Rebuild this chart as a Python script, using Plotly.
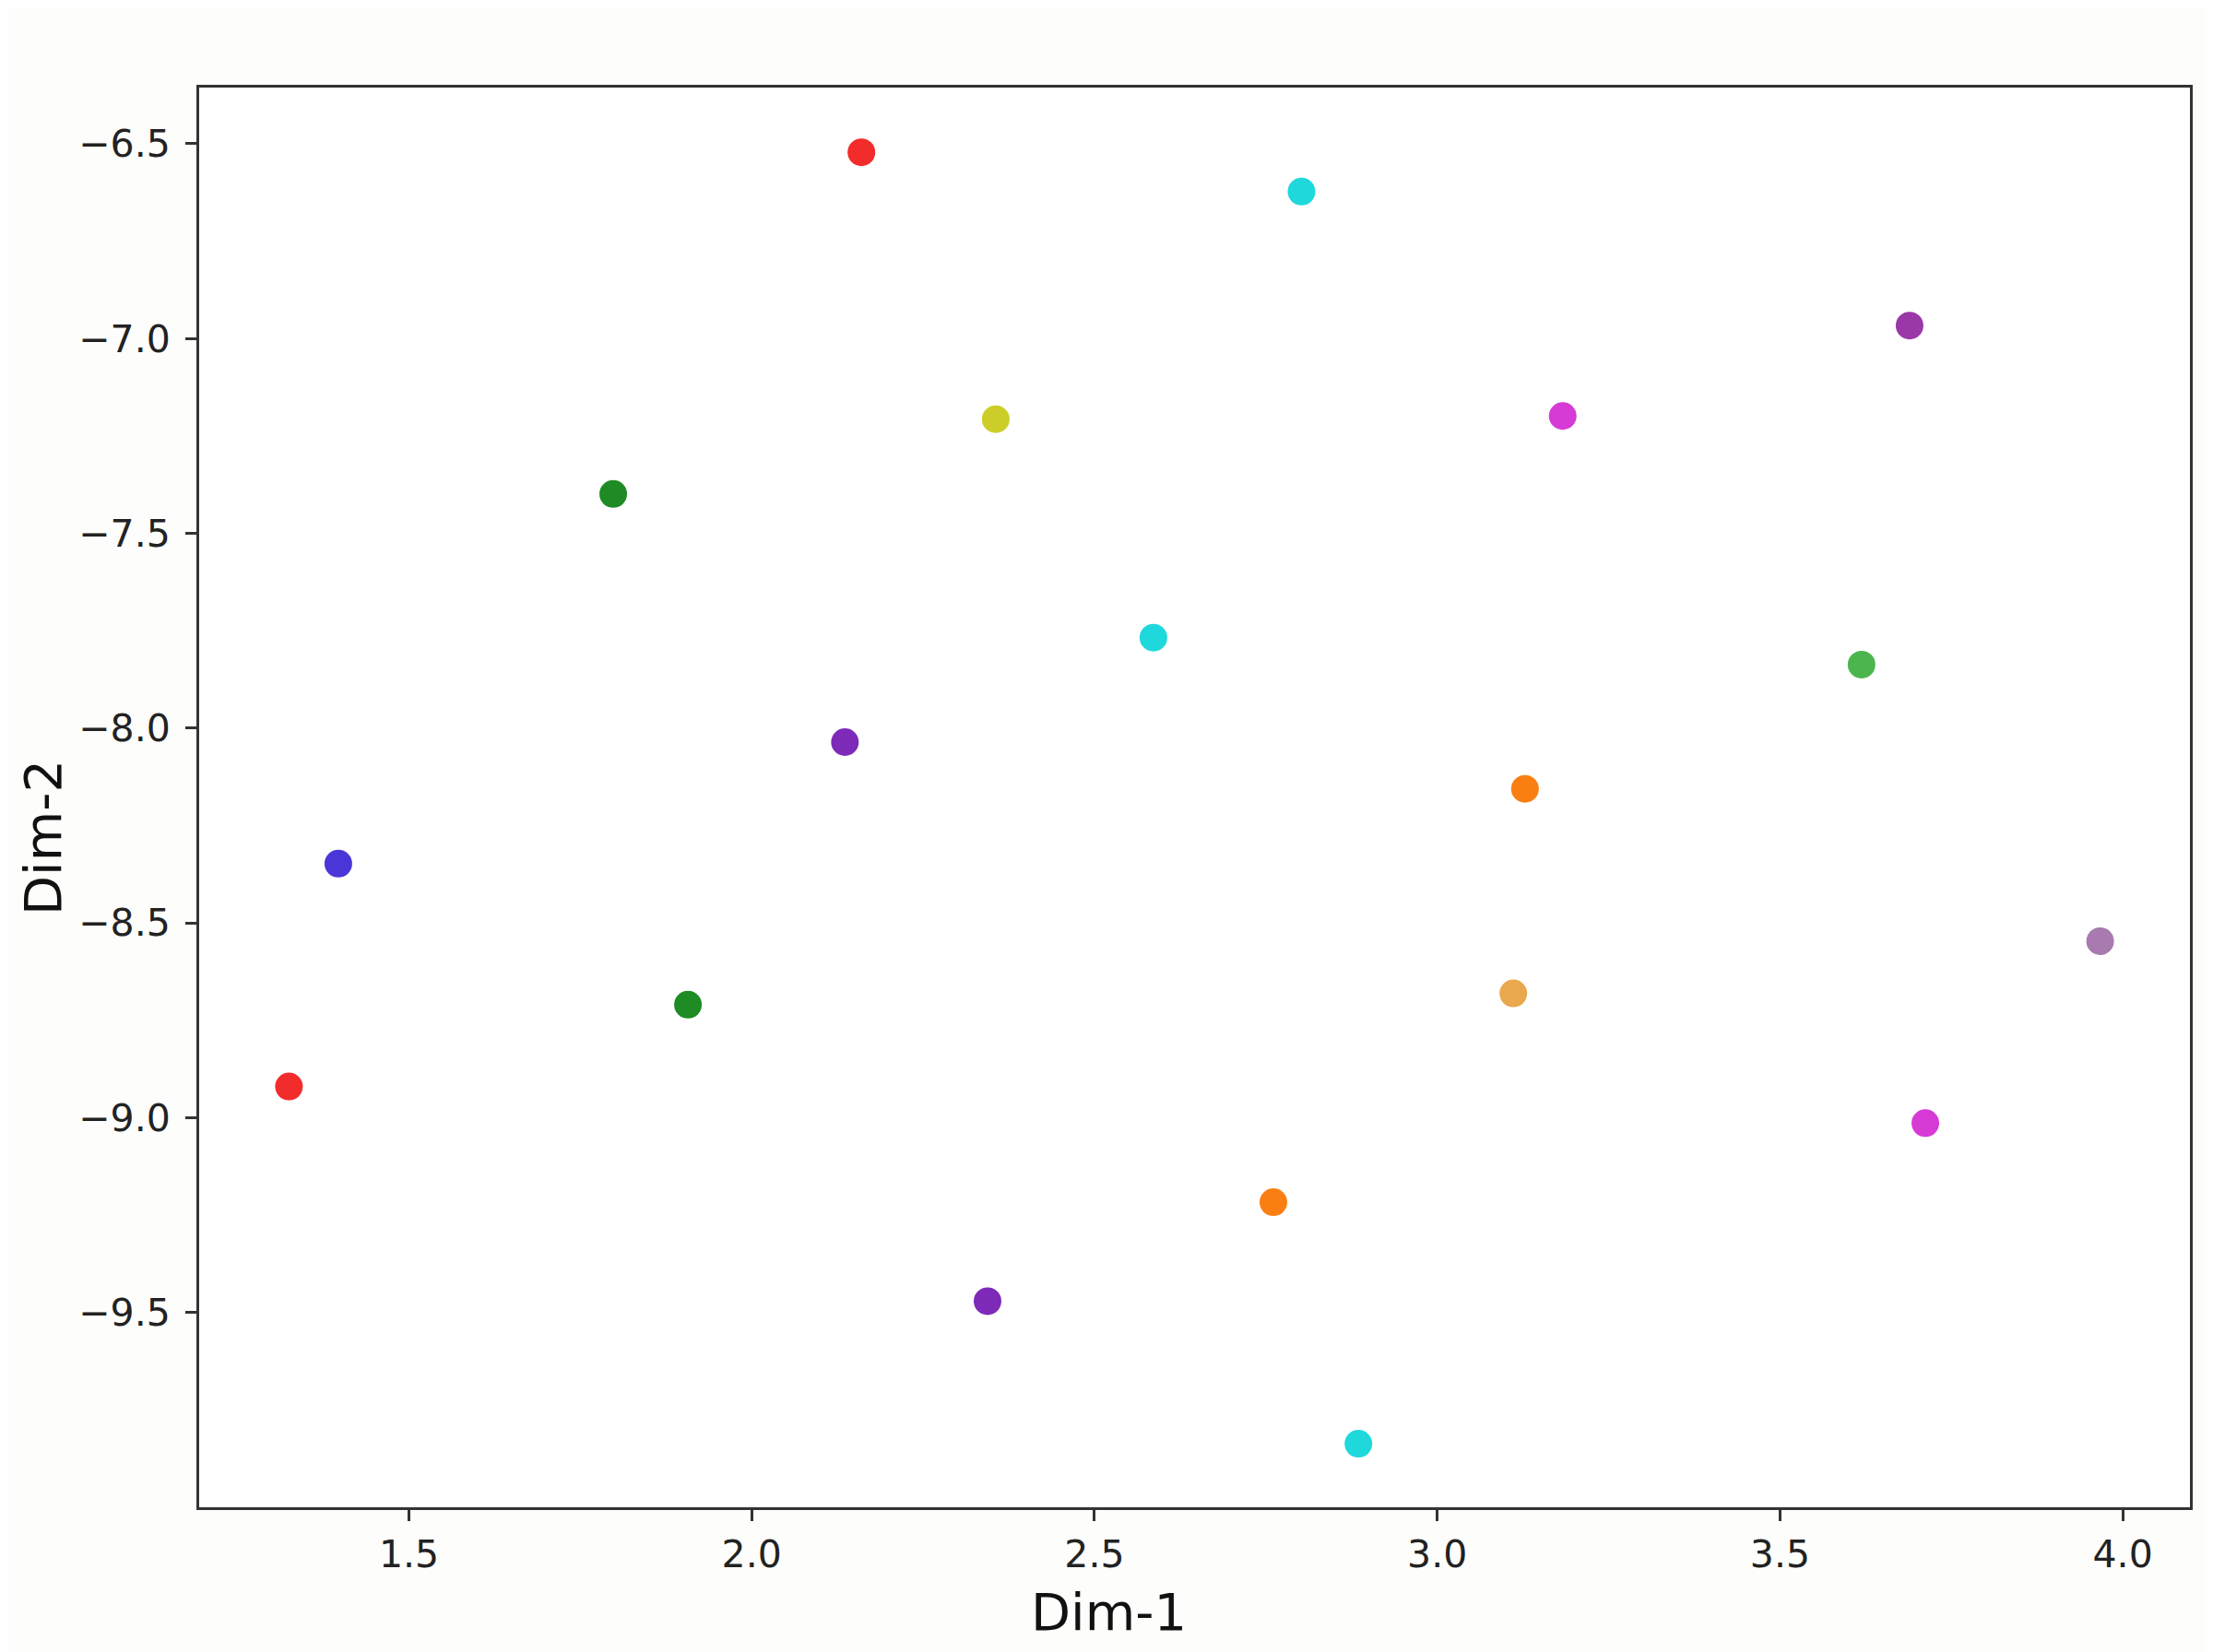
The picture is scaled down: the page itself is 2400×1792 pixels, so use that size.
import plotly.graph_objects as go

# Data
dim1 = [2.160, 2.802, 3.689, 3.183, 2.356, 1.798, 2.586, 3.619, 2.136, 3.128,
        1.397, 3.967, 3.111, 1.907, 1.325, 3.712, 2.761, 2.344, 2.885]
dim2 = [-6.522, -6.623, -6.967, -7.199, -7.207, -7.399, -7.768, -7.837, -8.036, -8.156,
        -8.348, -8.547, -8.681, -8.710, -8.920, -9.014, -9.217, -9.471, -9.837]
point_colors = ["#F22B2B", "#1FD8DC", "#9A38A8", "#D63BD6", "#CDCD2A", "#1F8B24",
                "#1FD8DC", "#4CB54E", "#7D2AB8", "#FA7F12", "#4A35D8", "#A87AAF",
                "#E9A84E", "#1F8B24", "#F22B2B", "#D63BD6", "#FA7F12", "#7D2AB8", "#1FD8DC"]
x_ticks = [1.5, 2.0, 2.5, 3.0, 3.5, 4.0]
y_ticks = [-6.5, -7.0, -7.5, -8.0, -8.5, -9.0, -9.5]
x_label = "Dim-1"
y_label = "Dim-2"

FONT = "DejaVu Sans"

fig = go.Figure()
fig.add_trace(go.Scatter(
    x=dim1, y=dim2, mode="markers",
    marker=dict(size=30, color=point_colors, line=dict(width=0)),
    showlegend=False,
))

axis_common = dict(
    showline=True, mirror=True, linecolor="#333333", linewidth=3,
    ticks="outside", ticklen=12, tickwidth=3, tickcolor="#333333",
    showgrid=False, zeroline=False,
    tickfont=dict(family=FONT, size=41, color="#222222"),
    tickformat=".1f",
)

# the page body adds an 8px offset; margins compensate for it
fig.update_layout(
    width=2400, height=1792,
    margin=dict(l=208, r=33, t=87, b=165),
    paper_bgcolor="#FDFDFB", plot_bgcolor="#FFFFFF",
    xaxis=dict(range=[1.194, 4.098], tickvals=x_ticks, ticklabelstandoff=1, **axis_common),
    yaxis=dict(range=[-10.0, -6.356], tickvals=y_ticks, ticklabelstandoff=8, **axis_common),
    annotations=[
        dict(text=x_label, xref="paper", yref="paper",
             x=(1202 - 216) / (2375 - 216), y=-(1748 - 1635) / (1635 - 95),
             xanchor="center", yanchor="middle", showarrow=False,
             font=dict(family=FONT, size=56, color="#111111")),
        dict(text=y_label, xref="paper", yref="paper",
             x=-(216 - 46) / (2375 - 216), y=(1635 - 909) / (1635 - 95),
             xanchor="center", yanchor="middle", showarrow=False, textangle=-90,
             font=dict(family=FONT, size=56, color="#111111")),
    ],
)

fig.write_html("out.html")
